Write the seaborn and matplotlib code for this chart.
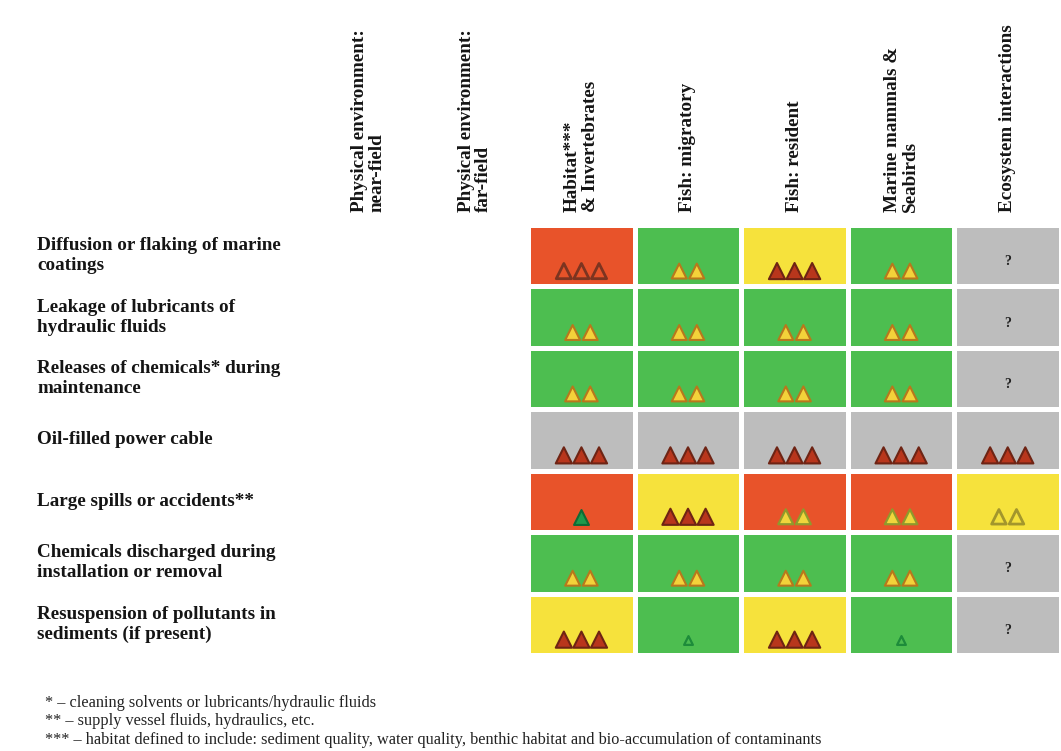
import numpy as np
import pandas as pd
import seaborn as sns
import matplotlib.pyplot as plt
from matplotlib.colors import ListedColormap
from matplotlib import font_manager
import matplotlib.patheffects as pe
import matplotlib.transforms as mtrans

sns.set_style('white')
plt.rcParams['font.family'] = ['Liberation Serif', 'DejaVu Serif']

pathways = ["Diffusion or flaking of marine\ncoatings",
            "Leakage of lubricants of\nhydraulic fluids",
            "Releases of chemicals* during\nmaintenance",
            "Oil-filled power cable",
            "Large spills or accidents**",
            "Chemicals discharged during\ninstallation or removal",
            "Resuspension of pollutants in\nsediments (if present)"]

receptors = ["Physical environment:\nnear-field",
             "Physical environment:\nfar-field",
             "Habitat***\n& Invertebrates",
             "Fish: migratory",
             "Fish: resident",
             "Marine mammals &\nSeabirds",
             "Ecosystem interactions"]

# impact level: 1 green, 2 yellow, 3 red, 4 grey (unknown), nan = not assessed
impact = [
    [np.nan, np.nan, 3, 1, 2, 1, 4],
    [np.nan, np.nan, 1, 1, 1, 1, 4],
    [np.nan, np.nan, 1, 1, 1, 1, 4],
    [np.nan, np.nan, 4, 4, 4, 4, 4],
    [np.nan, np.nan, 3, 2, 3, 3, 2],
    [np.nan, np.nan, 1, 1, 1, 1, 4],
    [np.nan, np.nan, 2, 1, 2, 1, 4],
]

# confidence: number of triangles (0 = '?') and symbol style
conf_n = [
    [0, 0, 3, 2, 3, 2, 0],
    [0, 0, 2, 2, 2, 2, 0],
    [0, 0, 2, 2, 2, 2, 0],
    [0, 0, 3, 3, 3, 3, 3],
    [0, 0, 1, 3, 2, 2, 2],
    [0, 0, 2, 2, 2, 2, 0],
    [0, 0, 3, 1, 3, 1, 0],
]
conf_style = [
    ['', '', 'hollow_red', 'gold', 'dark', 'gold', '?'],
    ['', '', 'gold', 'gold', 'gold', 'gold', '?'],
    ['', '', 'gold', 'gold', 'gold', 'gold', '?'],
    ['', '', 'dark', 'dark', 'dark', 'dark', 'dark'],
    ['', '', 'green', 'dark', 'gold_olive', 'gold_olive', 'hollow_olive'],
    ['', '', 'gold', 'gold', 'gold', 'gold', '?'],
    ['', '', 'dark', 'small_green', 'dark', 'small_green', '?'],
]

styles = {
    'dark': dict(fc='#b8361c', ec='#6e2414', lw=1.5, s=135),
    'hollow_red': dict(fc='#e65329', ec='#7c3420', lw=2.0, s=120),
    'gold': dict(fc='#f3d23a', ec='#b8781c', lw=1.5, s=115),
    'gold_olive': dict(fc='#f0d63c', ec='#8f9a2c', lw=1.6, s=115),
    'hollow_olive': dict(fc='#f3e03c', ec='#a3962c', lw=2.0, s=110),
    'green': dict(fc='#1f9a4c', ec='#0f6a35', lw=1.5, s=115),
    'small_green': dict(fc='#4cbc52', ec='#1d8c3a', lw=1.6, s=40),
}

# use real bold if present, otherwise thicken the regular face
bold_file = font_manager.findfont(font_manager.FontProperties(family='Liberation Serif', weight='bold'))
has_bold = 'bold' in bold_file.lower()
fx = [] if has_bold else [pe.withStroke(linewidth=0.8, foreground='#151515')]
row_fs = 13.8 if has_bold else 14.6
col_fs = 13.8 if has_bold else 14.6

df = pd.DataFrame(impact, index=pathways, columns=receptors)
cmap = ListedColormap(['#4dbe50', '#f6e23c', '#e8532a', '#bdbdbd'])

fig = plt.figure(figsize=(10.61, 7.51), dpi=100)
ax = fig.add_axes([315 / 1061, 1 - 655 / 751, 746 / 1061, 430 / 751])
sns.heatmap(df, ax=ax, cmap=cmap, vmin=0.5, vmax=4.5, mask=df.isna(),
            cbar=False, linewidths=2.2, linecolor='white')
ax.set_xticks([])
ax.set_yticks([])
ax.set_xlabel('')
ax.set_ylabel('')

# triangles / question marks
for i in range(len(pathways)):
    for j in range(len(receptors)):
        st = conf_style[i][j]
        if st == '?':
            ax.text(j + 0.5, i + 0.6, '?', ha='center', va='center',
                    fontsize=10, fontweight='bold', color='#222222', path_effects=fx)
        elif st:
            n = conf_n[i][j]
            xs = j + 0.5 + (np.arange(n) - (n - 1) / 2) * 0.165
            p = styles[st]
            ax.scatter(xs, [i + 0.75] * n, marker='^', s=p['s'],
                       facecolors=[p['fc']] * n, edgecolors=[p['ec']] * n,
                       linewidths=p['lw'], zorder=3)

# row labels
tr_rows = mtrans.blended_transform_factory(fig.transFigure, ax.transData)
for i, lab in enumerate(pathways):
    ax.text(37 / 1061, i + 0.5, lab, transform=tr_rows, ha='left', va='center',
            fontsize=row_fs, fontweight='bold', linespacing=1.22, color='#151515',
            path_effects=fx)

# column headers
tr_cols = mtrans.blended_transform_factory(ax.transData, fig.transFigure)
for j, lab in enumerate(receptors):
    ax.text(j + 0.5, 1 - 212 / 751, lab, transform=tr_cols, rotation=90,
            ha='center', va='bottom', multialignment='left',
            fontsize=col_fs, fontweight='bold', linespacing=1.05, color='#151515',
            path_effects=fx)

notes = ["* – cleaning solvents or lubricants/hydraulic fluids",
         "** – supply vessel fluids, hydraulics, etc.",
         "*** – habitat defined to include: sediment quality, water quality, benthic habitat and bio-accumulation of contaminants"]
for note, yy in zip(notes, [703, 721, 740]):
    fig.text(45 / 1061, 1 - yy / 751, note, ha='left', va='center',
             fontsize=11.7, color='#222222')

fig.savefig('out.png', dpi=100)
